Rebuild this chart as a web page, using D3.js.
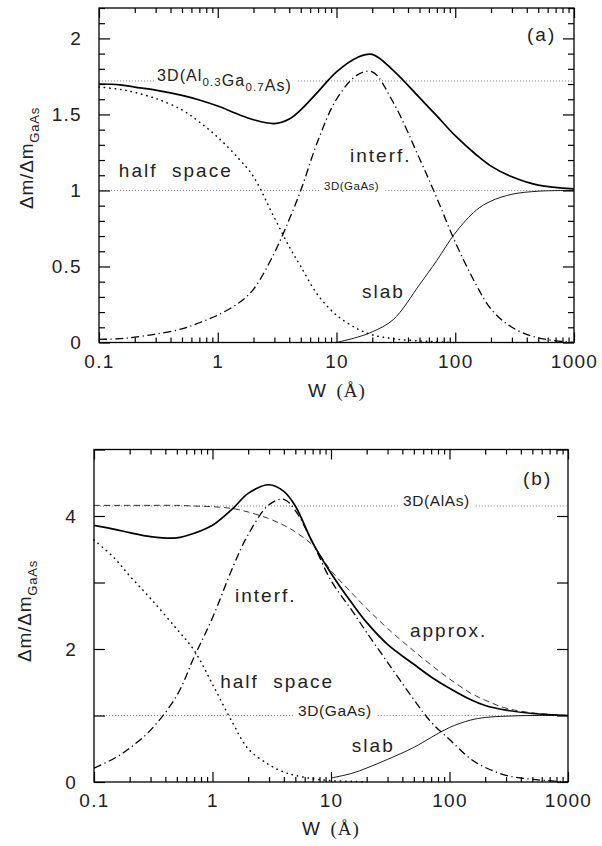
<!DOCTYPE html>
<html>
<head>
<meta charset="utf-8">
<script src="https://cdn.jsdelivr.net/npm/d3@7/dist/d3.min.js"></script>
<style>
  body { margin: 0; background: #fff; }
  svg text { font-family: "Liberation Sans", Arial, sans-serif; fill: #222; }
</style>
</head>
<body>
<svg id="chart" width="602" height="846"></svg>
<script>

// well width W (Å), common grid for every curve
const W = [0.1, 0.15, 0.2, 0.3, 0.5, 0.7, 1, 1.5, 2, 3, 4, 5, 7, 10, 15, 20, 30, 50, 70, 100, 150, 200, 300, 500, 1000];

// panel (a): Al0.3Ga0.7As barriers
const totalA  = [1.70, 1.695, 1.68, 1.66, 1.625, 1.595, 1.555, 1.50, 1.465, 1.44, 1.47, 1.53, 1.65, 1.78, 1.875, 1.895, 1.79, 1.61, 1.49, 1.36, 1.235, 1.16, 1.09, 1.035, 1.01];
const halfA   = [1.68, 1.665, 1.645, 1.605, 1.53, 1.45, 1.35, 1.21, 1.09, 0.82, 0.63, 0.50, 0.31, 0.18, 0.09, 0.05, 0.025, 0.01, 0.005, 0, null, null, null, null, null];
const interfA = [0.02, 0.025, 0.035, 0.055, 0.09, 0.13, 0.18, 0.26, 0.35, 0.59, 0.81, 1.00, 1.33, 1.60, 1.76, 1.78, 1.58, 1.21, 0.95, 0.66, 0.38, 0.22, 0.10, 0.03, 0];
const slabA   = [null, null, null, null, null, null, null, null, null, null, null, null, null, 0, 0.035, 0.07, 0.15, 0.38, 0.54, 0.72, 0.87, 0.93, 0.975, 0.995, 1.0];
const levelsA = [1.72, 1.0];

// panel (b): AlAs barriers
const totalB  = [3.86, 3.80, 3.75, 3.69, 3.67, 3.74, 3.86, 4.12, 4.34, 4.47, 4.37, 4.15, 3.60, 3.14, 2.69, 2.40, 2.07, 1.77, 1.58, 1.41, 1.24, 1.15, 1.08, 1.03, 1.0];
const approxB = [4.16, 4.16, 4.16, 4.16, 4.16, 4.15, 4.14, 4.11, 4.06, 3.96, 3.86, 3.76, 3.56, 3.18, 2.84, 2.61, 2.31, 1.97, 1.76, 1.55, 1.34, 1.23, 1.11, 1.04, 1.0];
const halfB   = [3.64, 3.36, 3.10, 2.76, 2.30, 1.98, 1.47, 0.87, 0.50, 0.26, 0.15, 0.10, 0.05, 0.02, 0.01, 0, null, null, null, null, null, null, null, null, null];
const interfB = [0.21, 0.36, 0.51, 0.78, 1.30, 1.88, 2.47, 3.25, 3.72, 4.17, 4.25, 4.08, 3.60, 3.03, 2.58, 2.25, 1.80, 1.24, 0.90, 0.64, 0.35, 0.22, 0.10, 0.04, 0];
const slabB   = [null, null, null, null, null, null, null, null, null, null, null, null, null, 0.06, 0.13, 0.21, 0.34, 0.52, 0.67, 0.82, 0.93, 0.97, 0.99, 1.0, 1.0];
const levelsB = [4.15, 1.0];

// tick labels
const X_TICKS         = [0.1, 1, 10, 100, 1000];
const X_TICK_LABELS   = ["0.1", "1", "10", "100", "1000"];
const Y_TICKS_A       = [0, 0.5, 1, 1.5, 2];
const Y_TICK_LABELS_A = ["0", "0.5", "1", "1.5", "2"];
const Y_TICKS_B       = [0, 1, 2, 3, 4, 5];
const Y_TICK_LABELS_B = ["0", "", "2", "", "4", ""];

const STYLE = {
    total:  { width: 1.7, dash: null },
    slab:   { width: 0.9, dash: null },
    half:   { width: 1.5, dash: "0.4 5", cap: "round" },
    interf: { width: 1.3, dash: "8 3.5 1.2 3.5" },
    approx: { width: 0.8, dash: "6 4" },
};

const svg = d3.select('#chart');

function drawPanel(p) {
    const x = d3.scaleLog().domain([0.1, 1000]).range([p.left, p.right]);
    const y = d3.scaleLinear().domain(p.yDomain).range([p.bottom, p.top]);
    const g = svg.append('g');

    // dotted 3D levels, with the label sitting in a gap of the line
    p.levels.forEach(lv => {
        const t = g.append('text')
            .attr('x', x(lv.w))
            .attr('y', y(lv.value))
            .attr('dy', '0.36em')
            .style('font-size', lv.size + 'px')
            .style('letter-spacing', lv.spacing + 'px');
        lv.parts.forEach(([s, sub]) => {
            t.append('tspan')
                .text(s)
                .attr('dy', sub ? lv.size * 0.3 : 0)
                .style('font-size', sub ? (lv.size * 0.72) + 'px' : null);
            if (sub) t.append('tspan').text('').attr('dy', -lv.size * 0.3);
        });
        const bb = t.node().getBBox();
        const segs = [[p.left, bb.x - 3], [bb.x + bb.width + 6, p.right]];
        g.selectAll(null)
            .data(segs)
            .join('line')
            .attr('x1', d => d[0]).attr('x2', d => d[1])
            .attr('y1', y(lv.value)).attr('y2', y(lv.value))
            .attr('stroke', '#777')
            .attr('stroke-width', 0.9)
            .attr('stroke-dasharray', '1 2');
    });

    // curves
    const line = d3.line()
        .defined(d => d[1] != null)
        .x(d => x(d[0]))
        .y(d => y(d[1]))
        .curve(d3.curveCatmullRom.alpha(0.5));

    p.series.forEach(s => {
        const st = STYLE[s.kind];
        g.append('path')
            .datum(W.map((w, i) => [w, s.values[i]]))
            .attr('d', line)
            .attr('fill', 'none')
            .attr('stroke', '#000')
            .attr('stroke-width', st.width)
            .attr('stroke-linecap', st.cap || 'butt')
            .attr('stroke-dasharray', st.dash);
    });

    // axes, ticks pointing inward on all four sides
    const fmt = (ticks, labels) => d => {
        const i = ticks.indexOf(d);
        return i < 0 ? "" : labels[i];
    };
    const minorX = [];
    [0.1, 1, 10, 100].forEach(dec => d3.range(2, 10).forEach(k => minorX.push(dec * k)));

    const axes = [
        [d3.axisBottom(x).tickValues(X_TICKS).tickFormat(fmt(X_TICKS, X_TICK_LABELS)).tickSizeInner(-10).tickPadding(12), `translate(0,${p.bottom})`],
        [d3.axisBottom(x).tickValues(minorX).tickFormat('').tickSizeInner(-5), `translate(0,${p.bottom})`],
        [d3.axisTop(x).tickValues(X_TICKS).tickFormat('').tickSizeInner(-10), `translate(0,${p.top})`],
        [d3.axisTop(x).tickValues(minorX).tickFormat('').tickSizeInner(-5), `translate(0,${p.top})`],
        [d3.axisLeft(y).tickValues(p.yTicks).tickFormat(fmt(p.yTicks, p.yTickLabels)).tickSizeInner(-11).tickPadding(17), `translate(${p.left},0)`],
        [d3.axisRight(y).tickValues(p.yTicks).tickFormat('').tickSizeInner(-11), `translate(${p.right},0)`],
    ];
    if (p.yMinor) {
        axes.push([d3.axisLeft(y).tickValues(p.yMinor).tickFormat('').tickSizeInner(-6), `translate(${p.left},0)`]);
        axes.push([d3.axisRight(y).tickValues(p.yMinor).tickFormat('').tickSizeInner(-6), `translate(${p.right},0)`]);
    }
    axes.forEach(([ax, tr]) => {
        const a = g.append('g').attr('transform', tr).call(ax.tickSizeOuter(0));
        a.select('.domain').remove();
        a.selectAll('line').attr('stroke', '#000').attr('stroke-width', 1.2);
        a.attr('font-family', null).attr('font-size', null);
        a.selectAll('text')
            .style('font-size', '19px')
            .style('letter-spacing', '1.3px');
    });

    // frame
    g.append('rect')
        .attr('x', p.left).attr('y', p.top)
        .attr('width', p.right - p.left).attr('height', p.bottom - p.top)
        .attr('fill', 'none')
        .attr('stroke', '#000')
        .attr('stroke-width', 1.3);

    // curve labels
    p.notes.forEach(n => {
        g.append('text')
            .attr('x', x(n.w)).attr('y', y(n.v))
            .style('font-size', '19px')
            .style('letter-spacing', '2px')
            .style('white-space', 'pre')
            .text(n.text);
    });

    // axis titles
    const yt = g.append('text')
        .attr('transform', `translate(${p.yTitle[0]},${p.yTitle[1]}) rotate(-90)`)
        .attr('text-anchor', 'middle')
        .style('font-size', '19px')
        .style('letter-spacing', '0.8px');
    yt.append('tspan').text('\u0394m/\u0394m');
    yt.append('tspan').text('GaAs').attr('dy', 6).style('font-size', '13px');

    const xt = g.append('text')
        .attr('x', p.xTitle[0]).attr('y', p.xTitle[1])
        .attr('text-anchor', 'middle')
        .style('font-size', '19px')
        .style('white-space', 'pre');
    xt.append('tspan').text('W  ');
    xt.append('tspan').text('(\u00C5)').style('font-family', '"Liberation Serif", serif').style('letter-spacing', '1px');
}

drawPanel({
    left: 99, right: 574, top: 8, bottom: 342.5,
    yDomain: [0, 2.2],
    yTicks: Y_TICKS_A, yTickLabels: Y_TICK_LABELS_A,
    yMinor: d3.range(0, 23).map(i => i / 10).filter(v => Math.round(v * 10) % 5 !== 0),
    levels: [
        { value: levelsA[0], w: 0.308, size: 16, spacing: 1.1,
          parts: [["3D(Al", false], ["0.3", true], ["Ga", false], ["0.7", true], ["As)", false]] },
        { value: levelsA[1], w: 7.86, size: 11.5, spacing: 0.5, parts: [["3D(GaAs)", false]] },
    ],
    series: [
        { kind: 'half',   values: halfA },
        { kind: 'interf', values: interfA },
        { kind: 'slab',   values: slabA },
        { kind: 'total',  values: totalA },
    ],
    notes: [
        { text: "(a)", w: 402, v: 1.98 },
        { text: "half  space", w: 0.147, v: 1.09 },
        { text: "interf.", w: 13.0, v: 1.19 },
        { text: "slab", w: 16.4, v: 0.29 },
    ],
    yTitle: [33, 158],
    xTitle: [337, 397],
});

drawPanel({
    left: 94, right: 568, top: 449.5, bottom: 782,
    yDomain: [0, 5],
    yTicks: Y_TICKS_B, yTickLabels: Y_TICK_LABELS_B,
    yMinor: null,
    levels: [
        { value: levelsB[0], w: 40.5, size: 15.5, spacing: 0.6, parts: [["3D(AlAs)", false]] },
        { value: levelsB[1], w: 5.27, size: 15.5, spacing: 0.6, parts: [["3D(GaAs)", false]] },
    ],
    series: [
        { kind: 'half',   values: halfB },
        { kind: 'interf', values: interfB },
        { kind: 'slab',   values: slabB },
        { kind: 'approx', values: approxB },
        { kind: 'total',  values: totalB },
    ],
    notes: [
        { text: "(b)", w: 417, v: 4.47 },
        { text: "interf.", w: 1.55, v: 2.71 },
        { text: "approx.", w: 46.4, v: 2.18 },
        { text: "half  space", w: 1.16, v: 1.41 },
        { text: "slab", w: 15.0, v: 0.45 },
    ],
    yTitle: [31, 611],
    xTitle: [331, 835],
});

</script>
</body>
</html>
